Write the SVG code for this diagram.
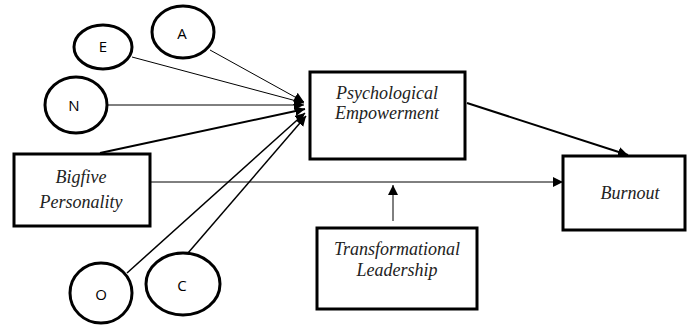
<svg xmlns="http://www.w3.org/2000/svg" width="688" height="325" viewBox="0 0 688 325">
<style>
.box{fill:#fff;stroke:#000;stroke-width:3}
.ell{fill:#fff;stroke:#000;stroke-width:3}
.lbl{font-family:"Liberation Serif","Times New Roman",serif;font-style:italic;font-size:18px;fill:#222;text-anchor:middle}
.ltr{font-family:"Open Sans","Liberation Sans",sans-serif;font-size:15px;fill:#000;text-anchor:middle}
.ln{stroke:#000;fill:none}
</style>
<defs>
<marker id="ah" viewBox="0 0 10 10" refX="10" refY="5" markerWidth="10" markerHeight="10" markerUnits="userSpaceOnUse" orient="auto">
<path d="M0,0 L10,5 L0,10 z" fill="#000"/>
</marker>
</defs>
<rect width="688" height="325" fill="#fff"/>
<g id="connectors">
<line class="ln" x1="132" y1="57" x2="304" y2="103" stroke-width="1" marker-end="url(#ah)"/>
<line class="ln" x1="210" y1="50" x2="304" y2="102" stroke-width="1" marker-end="url(#ah)"/>
<line class="ln" x1="107" y1="105" x2="304" y2="105" stroke-width="1" stroke="#444" marker-end="url(#ah)"/>
<line class="ln" x1="100" y1="153" x2="305" y2="109" stroke-width="2" marker-end="url(#ah)"/>
<line class="ln" x1="127" y1="273" x2="305" y2="113" stroke-width="1.5" marker-end="url(#ah)"/>
<line class="ln" x1="188" y1="253" x2="306" y2="116" stroke-width="1.5" marker-end="url(#ah)"/>
<line class="ln" x1="467" y1="103" x2="628" y2="155" stroke-width="2" marker-end="url(#ah)"/>
<line class="ln" x1="150" y1="182" x2="563" y2="182" stroke-width="1" stroke="#444" marker-end="url(#ah)"/>
<line class="ln" x1="393" y1="221" x2="393" y2="185" stroke-width="1" stroke="#444" marker-end="url(#ah)"/>
</g>
<g id="node-E"><ellipse class="ell" cx="103" cy="47" rx="29" ry="22"/><text class="ltr" x="103" y="52">E</text></g>
<g id="node-A"><ellipse class="ell" cx="183" cy="32" rx="31" ry="26"/><text class="ltr" x="182" y="39" font-size="13">A</text></g>
<g id="node-N"><ellipse class="ell" cx="76" cy="105" rx="31" ry="28"/><text class="ltr" x="74" y="111">N</text></g>
<g id="node-O"><ellipse class="ell" cx="101" cy="293" rx="31" ry="30"/><text class="ltr" x="101" y="300">O</text></g>
<g id="node-C"><ellipse class="ell" cx="183" cy="284" rx="37" ry="31"/><text class="ltr" x="182" y="291">C</text></g>
<g id="node-psych"><rect class="box" x="310" y="72" width="155" height="87"/><text class="lbl" x="387" y="99">Psychological</text><text class="lbl" x="387" y="119">Empowerment</text></g>
<g id="node-bigfive"><rect class="box" x="14" y="154" width="136" height="72"/><text class="lbl" x="81" y="183">Bigfive</text><text class="lbl" x="81" y="208">Personality</text></g>
<g id="node-burnout"><rect class="box" x="563" y="156" width="122" height="74"/><text class="lbl" x="630" y="199">Burnout</text></g>
<g id="node-tl"><rect class="box" x="317" y="228" width="160" height="81"/><text class="lbl" x="397" y="255">Transformational</text><text class="lbl" x="397" y="276">Leadership</text></g>
</svg>
